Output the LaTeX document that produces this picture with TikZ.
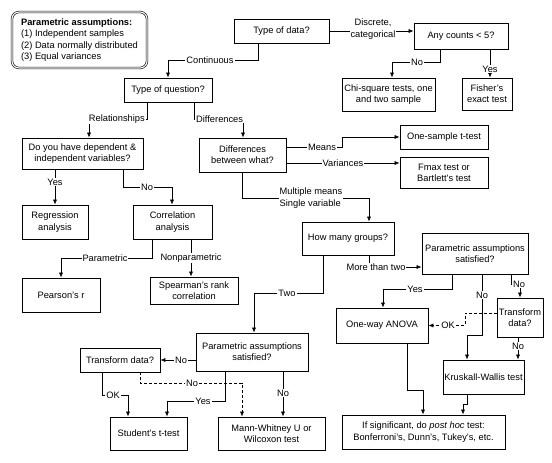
\documentclass[tikz,border=0pt]{standalone}
\usepackage{fontspec}
\setmainfont{Liberation Sans}
\usetikzlibrary{arrows.meta}
\newcommand{\fsz}{\fontsize{9.3}{11.3}\selectfont}
\tikzset{
  box/.style={draw, line width=0.7pt, align=center, inner sep=1pt, font=\fsz},
  lab/.style={fill=white, inner sep=1pt, font=\fsz},
  ln/.style={line width=0.6pt},
  arr/.style={ln, -{Latex[length=5pt,width=4pt]}},
  dsh/.style={arr, dashed, dash pattern=on 3pt off 2pt},
}
\begin{document}
\begin{tikzpicture}[x=1pt,y=-1pt]
\useasboundingbox (0,0) rectangle (552,463);
% legend
\node[draw, double, double distance=1.1pt, line width=0.6pt, rounded corners=7pt,
  minimum width=135pt, minimum height=56pt, align=left, inner sep=2pt, font=\fsz]
  (legend) at (79.5,40) {\textbf{Parametric assumptions:}\\(1) Independent samples\\(2) Data normally distributed\\(3) Equal variances};
% boxes
\node[box, minimum width=95pt, minimum height=24pt] (tdata) at (281.5,31) {Type of data?};
\node[box, minimum width=94pt, minimum height=26pt] (anyc) at (461,36) {Any counts < 5?};
\node[box, minimum width=93pt, minimum height=33pt] (chi) at (388.5,94.5) {Chi-square tests, one\\and two sample};
\node[box, minimum width=50pt, minimum height=32pt] (fisher) at (487,94) {Fisher's\\exact test};
\node[box, minimum width=88pt, minimum height=24pt] (tq) at (168,90) {Type of question?};
\node[box, minimum width=121pt, minimum height=31pt] (dyh) at (82.5,153.5) {Do you have dependent \&\\independent variables?};
\node[box, minimum width=87pt, minimum height=34pt] (diff) at (242.5,155) {Differences\\between what?};
\node[box, minimum width=88pt, minimum height=24pt] (onet) at (444,137) {One-sample t-test};
\node[box, minimum width=88pt, minimum height=31pt] (fmax) at (444,172.5) {Fmax test or\\Bartlett's test};
\node[box, minimum width=66pt, minimum height=34pt] (regr) at (55,222) {Regression\\analysis};
\node[box, minimum width=79pt, minimum height=34pt] (corr) at (172.5,222) {Correlation\\analysis};
\node[box, minimum width=78pt, minimum height=34pt] (pear) at (61,295) {Pearson's r};
\node[box, minimum width=88pt, minimum height=27pt] (spear) at (194,290.5) {Spearman's rank\\correlation};
\node[box, minimum width=92pt, minimum height=33pt] (howm) at (348,238.5) {How many groups?};
\node[box, minimum width=106pt, minimum height=41pt] (parR) at (475,253.5) {Parametric assumptions\\satisfied?};
\node[box, minimum width=46pt, minimum height=39pt] (trR) at (520,317.5) {Transform\\data?};
\node[box, minimum width=92pt, minimum height=35pt] (anova) at (382,325.5) {One-way ANOVA};
\node[box, minimum width=81pt, minimum height=34pt] (krus) at (483.5,377) {Kruskall-Wallis test};
\node[box, minimum width=163pt, minimum height=34pt] (ifsig) at (423.5,432) {If significant, do \textit{post hoc} test:\\Bonferroni's, Dunn's, Tukey's, etc.};
\node[box, minimum width=112pt, minimum height=38pt] (parL) at (252,352) {Parametric assumptions\\satisfied?};
\node[box, minimum width=80pt, minimum height=24pt] (trL) at (120,360) {Transform data?};
\node[box, minimum width=77pt, minimum height=33pt] (stud) at (148.5,433.5) {Student's t-test};
\node[box, minimum width=107pt, minimum height=33pt] (mann) at (271.5,433.5) {Mann-Whitney U or\\Wilcoxon test};
% connectors
\draw[arr] (258,0 |- tdata.south) -- (258,60) -- (tq.north |- 0,60) -- (tq.north);
\node[lab] (lcont) at (210,60) {Continuous};
\draw[arr] (tdata.east) -- (tdata.east -| anyc.west);
\node[lab, align=center, inner sep=0.5pt] (ldisc) at (373,29) {Discrete,\\categorical};
\draw[arr] (440,0 |- anyc.south) -- (440,62) -- (392,62) -- (392,0 |- chi.north);
\node[lab] (lno1) at (417,62) {No};
\draw[arr] (490,0 |- anyc.south) -- (490,0 |- fisher.north);
\node[lab] (lyes1) at (490,69) {Yes};
\draw[arr] (147,0 |- tq.south) -- (147,119) -- (89,119) -- (89,0 |- dyh.north);
\node[lab, anchor=east] (lrel) at (146,119) {Relationships};
\draw[arr] (194,0 |- tq.south) -- (194,119) -- (243,119) -- (243,0 |- diff.north);
\node[lab, anchor=west] (ldif) at (195,119) {Differences};
\draw[arr] (55,0 |- dyh.south) -- (55,0 |- regr.north);
\node[lab] (lyes2) at (55,182) {Yes};
\draw[arr] (123,0 |- dyh.south) -- (123,187) -- (172,187) -- (172,0 |- corr.north);
\node[lab] (lno2) at (147,187) {No};
\draw[arr] (152,0 |- corr.south) -- (152,258) -- (61,258) -- (61,0 |- pear.north);
\node[lab] (lpar) at (105,258) {Parametric};
\draw[arr] (191,0 |- corr.south) -- (191,0 |- spear.north);
\node[lab] (lnonp) at (191,258) {Nonparametric};
\draw[arr] (diff.east |- 0,147) -- (342,147) -- (342,137) -- (onet.west);
\node[lab] (lmeans) at (322,147) {Means};
\draw[arr] (diff.east |- 0,163) -- (fmax.west |- 0,163);
\node[lab] (lvar) at (343,163) {Variances};
\draw[arr] (242,0 |- diff.south) -- (242,198) -- (369,198) -- (369,0 |- howm.north);
\node[lab, align=left, anchor=west, inner sep=0.5pt] (lmult) at (279,198) {Multiple means\\Single variable};
\draw[arr] (323,0 |- howm.south) -- (323,293) -- (254,293) -- (254,0 |- parL.north);
\node[lab] (ltwo) at (287,293) {Two};
\draw[arr] (369,0 |- howm.south) -- (369,267) -- (parR.west |- 0,267);
\node[lab] (lmore) at (376,267) {More than two};
\draw[arr] (452,0 |- parR.south) -- (452,289) -- (383,289) -- (383,0 |- anova.north);
\node[lab] (lyes3) at (415,289) {Yes};
\draw[arr] (482,0 |- parR.south) -- (482,335) -- (467,335) -- (467,0 |- krus.north);
\node[lab] (lno3) at (482,295) {No};
\draw[arr] (511,0 |- parR.south) -- (511,284) -- (520,284) -- (520,0 |- trR.north);
\node[lab, anchor=west] (lno4) at (512,284) {No};
\draw[dsh] (trR.west |- 0,313) -- (465,313) -- (465,325.5) -- (anova.east |- 0,325.5);
\node[lab] (lok1) at (448,325.5) {OK};
\draw[arr] (518,0 |- trR.south) -- (518,0 |- krus.north);
\node[lab] (lno5) at (518,346) {No};
\draw[arr] (407,0 |- anova.south) -- (407,390) -- (423,390) -- (423,0 |- ifsig.north);
\draw[arr] (467,0 |- krus.south) -- (467,404) -- (463,404) -- (463,0 |- ifsig.north);
\draw[arr] (parL.west |- 0,360) -- (trL.east |- 0,360);
\node[lab] (lno6) at (181,360) {No};
\draw[arr] (102,0 |- trL.south) -- (102,395) -- (128,395) -- (128,0 |- stud.north);
\node[lab] (lok2) at (113,395) {OK};
\draw[dsh] (140,0 |- trL.south) -- (140,383) -- (242,383) -- (242,0 |- mann.north);
\node[lab] (lno7) at (192,383) {No};
\draw[arr] (225,0 |- parL.south) -- (225,401) -- (167,401) -- (167,0 |- stud.north);
\node[lab] (lyes4) at (203,401) {Yes};
\draw[arr] (283,0 |- parL.south) -- (283,0 |- mann.north);
\node[lab] (lno8) at (283,393) {No};
\end{tikzpicture}
\end{document}
